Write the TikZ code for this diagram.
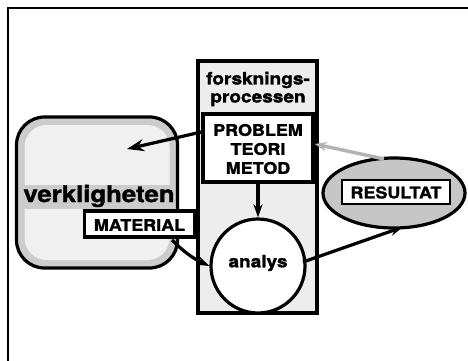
\documentclass[tikz,border=0pt]{standalone}
\usepackage{fontspec}
\setmainfont{TeX Gyre Heros}[FakeStretch=1.12,BoldFeatures={FakeBold=1.6}]
\usetikzlibrary{arrows.meta,shapes.geometric}
\begin{document}
\begin{tikzpicture}[x=1pt,y=-1pt,
  thick border/.style={draw=black,line width=3.2pt},
  lbl/.style={font=\bfseries\fontsize{16}{18}\selectfont,inner sep=0pt,align=center},
  conn/.style={line width=3.2pt,-{Stealth[length=13pt,width=9pt]}},
  graycon/.style={line width=3.4pt,draw=gray!60,-{Stealth[length=12pt,width=9pt]}}]
\useasboundingbox (0,0) rectangle (468,361);
% frame
\draw[line width=1.8pt] (8,361) -- (8,8) -- (468,8);
% central process column
\node[thick border,fill=gray!14,minimum width=119pt,minimum height=252pt,inner sep=0pt] (proc) at (257.5,187) {};
\node[lbl,font=\bfseries\fontsize{17}{18}\selectfont] (forsk) at (258,89) {forsknings-\\processen};
% reality box
\node[thick border,fill=gray!40,rounded corners=28pt,minimum width=161pt,minimum height=151pt,inner sep=0pt] (verk) at (97,192.5) {};
\node[fill=gray!12,rounded corners=22pt,minimum width=145pt,minimum height=135pt,inner sep=0pt] (verkin) at (97,192.5) {};
\node[fill=gray!40,minimum width=152pt,minimum height=24pt,inner sep=0pt] (verkband) at (99,197) {};
\node[lbl,font=\bfseries\fontsize{23}{24}\selectfont] (verklbl) at (99,196) {verkligheten};
% problem box
\node[thick border,fill=white,minimum width=110pt,minimum height=68pt,inner sep=0pt] (prob) at (258,148) {};
\node[lbl,font=\bfseries\fontsize{16}{19}\selectfont] (probtxt) at (258,149) {PROBLEM\\TEORI\\METOD};
% material
\node[thick border,fill=white,minimum width=110pt,minimum height=26pt,inner sep=0pt] (mat) at (139.5,224) {};
\node[lbl] (mattxt) at (139.5,225) {MATERIAL};
% analys
\node[circle,thick border,fill=white,minimum size=94pt,inner sep=0pt] (ana) at (258,266) {};
\node[lbl,font=\bfseries\fontsize{17}{18}\selectfont] (anatxt) at (258,263) {analys};
% resultat
\node[ellipse,thick border,fill=gray!45,minimum width=142pt,minimum height=70pt,inner sep=0pt] (res) at (394,193) {};
\node[draw=black,line width=2.4pt,fill=white,minimum width=108pt,minimum height=24pt,inner sep=0pt] (resbox) at (396,192) {};
\node[lbl] (restxt) at (396,192.5) {RESULTAT};
% connectors
\coordinate (vtip) at (127,149);
\draw[conn,-{Stealth[length=17pt,width=12pt]}] (prob.west |- 0,132) -- (vtip);
\draw[conn] (prob.south) -- (ana.north);
\coordinate (mstart) at (172,240);
\draw[conn] (mstart) to[bend right=10] (ana.west);
\coordinate (rtip) at (403,227);
\coordinate (astart) at (303,262);
\draw[conn] (astart) -- (rtip);
\coordinate (gstart) at (384,159);
\draw[graycon] (gstart) -- (prob.east |- 0,144);
\end{tikzpicture}
\end{document}
